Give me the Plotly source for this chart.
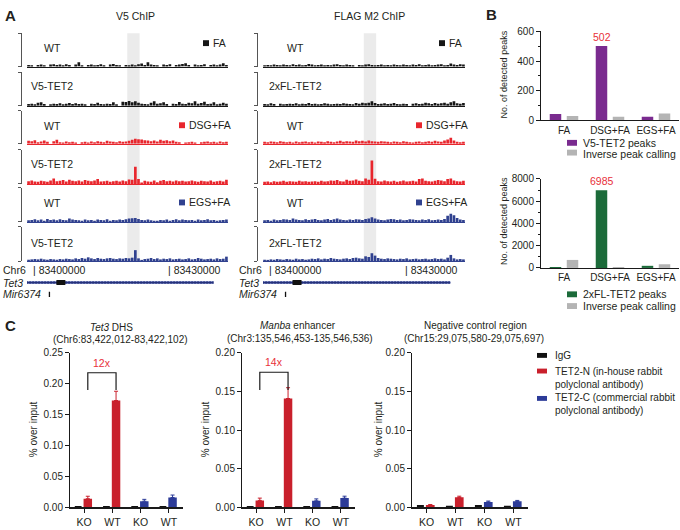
import plotly.graph_objects as go

W, H = 680, 530
FONT = "Liberation Sans, Arial, Helvetica, sans-serif"
TXT = "#231f20"

# ---------------- data ----------------
region_start = 83398800
region_end = 83443600
highlight_region = [83421150, 83423900]
coord_ticks = [83400000, 83430000]
coord_tick_labels = ["| 83400000", "| 83430000"]
tet3_gene = [83398700, 83440350]
tet3_exon = [83405350, 83407350]
mir6374_pos = 83403800

v5_fa_wt = [0.5,0.4,0,0.5,0.6,0.3,0,0.6,0.7,0.5,0.6,0.4,0.7,0.5,0,0.6,
            1.3,0.4,0,0.5,0.6,0.4,0.5,0.7,0.3,0,0.6,0.8,0.5,0.4,0,0.5,
            0.3,0.6,0.4,0.7,0.9,0.5,1.3,0.6,0.5,0.4,0,0.6,0.5,0.7,0,0.5,
            0.6,0.8,1.0,0.5,0,0.6,0.4,0.5,0.7,0,0.5,0.6,0.4,0.6,1.0,0.5]
v5_fa_tet2 = [0.5,0.6,0.4,0.9,1.0,0.5,0,0.4,0.6,0.5,0.7,0.4,0.6,0.8,0.5,0.7,
              0.5,0.6,0.4,0,0.6,0.5,0.9,0.5,0.4,0.6,0.5,1.0,0.4,0,1.2,1.1,
              1.4,1.0,1.3,0.9,0.6,0.5,0.4,0.9,1.3,0.6,0.7,1.0,0.5,0,0.6,0.5,
              1.1,0.6,0.5,0.9,0.7,1.3,0.6,0.8,1.2,0.5,0.6,1.0,0.4,0.6,0.9,0.6]
v5_dsg_wt = [0.9,0.8,1.1,0.5,0.7,1.0,0.6,0,0.8,1.2,0.5,0.4,0.7,0.5,0.6,0.4,
             0,0.5,0.6,0.4,0.7,0.5,0.8,0.6,0.5,0.9,0.7,0.6,0.5,0.8,0.6,0.7,
             0.9,1.2,1.5,1.4,1.3,1.1,1.0,0.8,1.0,0.7,1.2,0.9,1.1,0.8,1.0,0.6,
             0.5,0,0.4,0.5,0.6,0.4,0,0.5,0.6,0.7,0.5,0.6,0.4,0.7,0.5,0.6]
v5_dsg_tet2 = [0.8,1.0,0.7,0.6,0.9,0.8,0.6,1.0,1.6,0.8,0.9,1.1,0.7,1.2,0.9,0.8,
               1.0,0.7,1.1,0.9,0.8,1.0,1.4,0.7,0.8,0.9,0.6,0.8,0.9,0.7,1.0,0.8,
               1.3,1.2,5.0,1.4,0.4,0.9,0.7,0.6,1.0,0.5,0.9,1.1,0.8,0.9,0.7,1.0,
               0.8,0.9,0.7,0.8,1.0,0.8,0.6,0.9,0.8,0.7,1.0,0.6,0.8,0.9,0.7,1.2]
v5_egs_wt = [0.5,0.6,0.8,0.5,0.7,0.4,0.9,0.6,0.7,0.5,0.8,0.6,0.5,1.0,0.7,0.6,
             0.5,0.4,0.7,0.5,0.6,0.4,0.7,0.6,0.5,0.8,0.4,0.6,0.5,0.7,0.6,0.8,
             1.0,1.1,1.2,0.9,0.6,0.5,0.7,0.5,0.4,0.3,0.6,0.5,0.7,0.4,0.6,0.8,
             0.5,0.7,0.6,0.5,0.6,0.4,0.7,0.5,0.6,0.8,0.5,0.6,0.4,0.5,0.6,0.7]
v5_egs_tet2 = [0.4,0.5,0.6,0.5,0.7,0.5,0.4,0.6,0.5,0.4,0.6,0.5,0.7,0.6,0.5,0.8,
               0.6,0.9,0.7,1.1,0.8,0.6,0.9,0.7,0.6,0.8,0.9,0.7,0.6,0.8,0.7,0.9,
               0.8,1.0,3.2,0.8,0.2,0.6,0.7,0.9,0.6,0.8,0.5,0.7,0.6,0.8,0.5,0.6,
               0.7,0.5,0.6,0.8,0.5,0.6,0.9,0.7,0.5,0.6,0.7,0.5,0.8,0.6,0.7,1.3]
flag_fa_wt = [0.4,0.5,0.3,0.6,0.5,0.4,0.6,0.5,0.4,0.7,0.5,0.6,0.4,0.5,0.8,0.6,
              0.4,0.5,0.6,0.3,0.5,0.4,0.6,0.7,0.5,0.4,0.6,0.5,0.3,0,0.5,0.4,
              0.6,0.7,0.5,0.4,0.5,0.6,0.4,0.5,0.3,0.6,0.5,0.4,0.6,0.5,0.4,0.6,
              0.5,0.7,0.4,0.5,0.6,0.4,0.5,0.6,0.7,0.4,0.5,0.9,0.6,0.5,0.7,0.6]
flag_fa_tet2 = [0.5,0.4,0.7,0.5,0,0.6,0.4,0.5,0.6,0.5,0.7,0.4,0.6,0.5,0.8,0.5,
                0.6,0.4,0.5,0.7,0.6,0.4,0.5,0.6,0.5,0.7,0.6,0.5,0.4,0.8,0.6,0.9,
                0.7,0.9,1.3,0.8,0.5,0.6,0.7,0.5,0.6,0.8,0.5,0.4,0.6,0.5,0,0.6,
                0.7,0.5,0.6,0.9,0.7,0.5,0.8,0.6,0.7,0.9,0.6,1.0,1.3,0.7,0.6,0.8]
flag_dsg_wt = [0.6,0.5,0.7,0.6,0.5,0.8,0.6,0.5,0.6,0.4,0.7,0.5,0.6,0.7,0.5,0.6,
               0.4,0.7,0.6,0.5,0.8,0.6,0.5,0.7,0.9,0.6,0.8,0.7,0.6,1.0,0.8,0.9,
               0.7,1.0,0.8,0.7,0.6,0.8,0.7,0.6,0.5,0.7,0.6,0.5,0.8,0.6,0.5,0.4,
               0.6,0.7,0.5,0.6,0.8,0.6,0.9,0.7,0.6,1.0,1.3,1.8,1.0,0.6,0.5,0.6]
flag_dsg_tet2 = [0.6,0.7,0.5,0.8,0.6,0.7,0.9,0.6,0.8,0.7,0.6,0.9,0.7,0.8,0.6,0.7,
                 0.8,0.6,0.9,0.7,0.8,1.0,0.9,1.1,0.8,0.7,1.2,0.9,1.0,1.3,0.9,0.8,
                 1.6,1.2,6.8,1.5,0.8,0.7,1.0,0.8,0.7,0.9,0.6,0.8,1.0,0.7,0.8,0.9,
                 0.7,1.4,1.6,0.9,0.8,0.7,0.9,1.1,1.0,0.8,1.4,1.6,1.0,0.8,0.7,0.9]
flag_egs_wt = [0.5,0.6,0.4,0.7,0.5,0.6,0.8,0.7,0.6,1.0,0.7,0.6,0.5,0.8,0.6,0.7,
               0.9,0.6,0.5,0.7,0.9,0.6,0.8,1.0,0.7,0.6,0.5,0.7,0.6,0.8,0.7,0.6,
               0.9,1.0,1.4,1.0,0.7,0.6,0.5,0.7,0.9,0.8,0.6,0.7,0.5,0.6,0.8,0.7,
               0.6,0.5,0.7,0.6,0.8,0.5,0.6,0.7,0.6,0.9,1.8,2.4,2.0,1.2,0.7,0.6]
flag_egs_tet2 = [0.4,0.3,0.5,0.4,0.6,0.5,0.4,0.6,0.5,0.4,0.7,0.5,0.6,0.4,0.5,0.7,
                 0.6,0.8,0.5,0.7,0.6,0.9,0.7,0.6,0.5,0.7,0.8,0.6,0.9,1.0,0.8,0.7,
                 1.4,1.2,2.3,1.6,0.9,0.7,0.6,0.8,0.7,0.6,0.5,0.7,0.6,0.8,0.5,0.6,
                 0.7,0.5,0.6,0.7,0.5,0.6,0.8,0.6,0.7,0.5,1.0,1.8,0.8,0.5,0.6,0.5]
track_max = 10

b_categories = ["FA", "DSG+FA", "EGS+FA"]
v5_peaks = [42, 502, 25]
v5_inverse = [30, 24, 46]
fl_peaks = [80, 6985, 190]
fl_inverse = [720, 12, 330]

c_positions = [0, 1, 2, 3]
c_ticklabels = ["KO", "WT", "KO", "WT"]
tet3_igg = [0.001, 0.002, 0.001, 0.002]
tet3_n = [0.014, 0.173]
tet3_n_err = [0.004, 0.015]
tet3_c = [0.010, 0.016]
tet3_c_err = [0.003, 0.004]
manba_igg = [0.001, 0.0015, 0.001, 0.0015]
manba_n = [0.009, 0.141]
manba_n_err = [0.003, 0.014]
manba_c = [0.0085, 0.012]
manba_c_err = [0.0025, 0.0025]
neg_igg = [0.003, 0.002, 0.003, 0.002]
neg_n = [0.003, 0.013]
neg_n_err = [0.0007, 0.0015]
neg_c = [0.007, 0.0078]
neg_c_err = [0.0012, 0.0012]

# ---------------- styles ----------------
C_FA, C_DSG, C_EGS = "#161616", "#e8262d", "#30418f"
PURPLE, GRAY, GREEN = "#7a2b8f", "#b4b4b4", "#1c6b3a"
RED_C, BLUE_C, IGG_C = "#c9202c", "#2c3b98", "#111111"
AXC = "#1a1a1a"

layout = dict(width=W, height=H, autosize=False, margin=dict(l=0, r=0, t=0, b=0),
              paper_bgcolor="white", plot_bgcolor="rgba(0,0,0,0)", showlegend=False,
              barmode="overlay", font=dict(family=FONT, size=10, color=TXT))
shapes, annotations, traces = [], [], []
n_axes = [0]


def fx(px):
    return px / W


def fy(py):
    return 1 - py / H


def add_axes(xpx, ypx, xkw, ykw):
    n_axes[0] += 1
    k = n_axes[0]
    s = "" if k == 1 else str(k)
    xa = dict(domain=[fx(xpx[0]), fx(xpx[1])], anchor="y" + s, showgrid=False, zeroline=False)
    ya = dict(domain=[fy(ypx[1]), fy(ypx[0])], anchor="x" + s, showgrid=False, zeroline=False)
    xa.update(xkw)
    ya.update(ykw)
    layout["xaxis" + s] = xa
    layout["yaxis" + s] = ya
    return "x" + s, "y" + s


def text(x, y, t, size=10, anchor="left", color=TXT, **kw):
    d = dict(x=x, y=y, xref="paper", yref="paper", text=t, showarrow=False,
             xanchor=anchor, yanchor="middle", font=dict(size=size, color=color, family=FONT))
    d.update(kw)
    annotations.append(d)


def swatch(x0, x1, y0, y1, color):
    shapes.append(dict(type="rect", xref="paper", yref="paper", x0=fx(x0), x1=fx(x1),
                       y0=fy(y1), y1=fy(y0), fillcolor=color, line=dict(width=0)))


# ---------------- panel A ----------------
track_px = [(28, 62), (68, 102), (107, 141), (147, 182), (186, 221), (226, 261)]
label_y = [43, 82, 123, 162, 202, 242]
conds = ["FA", "FA", "DSG+FA", "DSG+FA", "EGS+FA", "EGS+FA"]
cond_color = {"FA": C_FA, "DSG+FA": C_DSG, "EGS+FA": C_EGS}
cond_y = {"FA": 38, "DSG+FA": 122, "EGS+FA": 201}

columns = [
    dict(title="V5 ChIP", title_x=135, data_px=(27, 228), bracket=21, wt_x=42, tg_x=29,
         tg_name="V5-TET2", chr_x=1,
         sw={"FA": 203, "DSG+FA": 179, "EGS+FA": 179},
         tracks=[v5_fa_wt, v5_fa_tet2, v5_dsg_wt, v5_dsg_tet2, v5_egs_wt, v5_egs_tet2]),
    dict(title="FLAG M2 ChIP", title_x=370, data_px=(263, 465), bracket=257, wt_x=285, tg_x=267,
         tg_name="2xFL-TET2", chr_x=237,
         sw={"FA": 439, "DSG+FA": 416, "EGS+FA": 416},
         tracks=[flag_fa_wt, flag_fa_tet2, flag_dsg_wt, flag_dsg_tet2, flag_egs_wt, flag_egs_tet2]),
]

for col in columns:
    text(fx(col["title_x"]), fy(10), col["title"], size=10.5, anchor="center")
    first_x = None
    for i, vals in enumerate(col["tracks"]):
        color = cond_color[conds[i]]
        xa, ya = add_axes(col["data_px"], track_px[i],
                          dict(range=[region_start, region_end], showline=True, linecolor=color,
                               linewidth=1.3, ticks="", showticklabels=False),
                          dict(range=[0, track_max], anchor="free", position=fx(col["bracket"]),
                               showline=True, linecolor="#555", linewidth=1, ticks="outside",
                               tickvals=[0, track_max], ticklen=3, tickcolor="#555",
                               showticklabels=False))
        if first_x is None:
            first_x = xa
        n = len(vals)
        bw = (region_end - region_start) / n
        centers = [region_start + (j + 0.5) * bw for j in range(n)]
        traces.append(go.Bar(x=centers, y=vals, width=bw * 0.85, marker=dict(color=color, line=dict(width=0)),
                             xaxis=xa, yaxis=ya, hoverinfo="skip"))
        if i % 2 == 0:
            text(fx(col["wt_x"]), fy(label_y[i]), "WT", size=10.5)
            c = conds[i]
            sx = col["sw"][c]
            swatch(sx, sx + 6, cond_y[c] - 3, cond_y[c] + 3, color)
            text(fx(sx + 8), fy(cond_y[c]), c, size=10.5)
        else:
            text(fx(col["tg_x"]), fy(label_y[i]), col["tg_name"], size=10.5)
    shapes.append(dict(type="rect", xref=first_x, yref="paper", x0=highlight_region[0],
                       x1=highlight_region[1], y0=fy(261), y1=fy(28), fillcolor="#ebebeb",
                       line=dict(width=0), layer="below"))
    # gene annotation
    gx, gy = add_axes(col["data_px"], (277, 301),
                      dict(range=[region_start, region_end], showline=False, ticks="",
                           showticklabels=False),
                      dict(range=[-0.5, 1.5], showline=False, ticks="", showticklabels=False))
    traces.append(go.Scatter(x=tet3_gene, y=[1, 1], mode="lines", line=dict(color="#8a95c8", width=3),
                             xaxis=gx, yaxis=gy, hoverinfo="skip"))
    traces.append(go.Scatter(x=tet3_gene, y=[1, 1], mode="lines",
                             line=dict(color="#27337d", width=1.2),
                             xaxis=gx, yaxis=gy, hoverinfo="skip"))
    traces.append(go.Scatter(x=tet3_gene, y=[1, 1], mode="lines",
                             line=dict(color="#27337d", width=3, dash="1px,2px"),
                             xaxis=gx, yaxis=gy, hoverinfo="skip"))
    traces.append(go.Scatter(x=tet3_exon, y=[1, 1], mode="lines", line=dict(color="#111", width=5),
                             xaxis=gx, yaxis=gy, hoverinfo="skip"))
    traces.append(go.Scatter(x=[mir6374_pos, mir6374_pos], y=[-0.22, 0.22], mode="lines",
                             line=dict(color="#111", width=1.3), xaxis=gx, yaxis=gy, hoverinfo="skip"))
    text(fx(col["chr_x"]), fy(270), "Chr6", size=10.5)
    text(fx(col["chr_x"]), fy(283), "<i>Tet3</i>", size=10.5)
    text(fx(col["chr_x"]), fy(295), "<i>Mir6374</i>", size=10.5)
    for tv, tl in zip(coord_ticks, coord_tick_labels):
        annotations.append(dict(x=tv, y=fy(270), xref=gx, yref="paper", text=tl, showarrow=False,
                                xanchor="left", yanchor="middle", xshift=-1,
                                font=dict(size=10.5, color=TXT, family=FONT)))

# ---------------- panel B ----------------
def b_chart(ypx, peaks, inverse, pcolor, yrange, tickvals, minor_dtick):
    xa, ya = add_axes((541, 679), ypx,
                      dict(type="category", categoryorder="array", categoryarray=b_categories,
                           range=[-0.5, 2.5], showline=True, linecolor=AXC, linewidth=1.3, ticks="",
                           tickfont=dict(size=10)),
                      dict(range=yrange, tickvals=tickvals, showline=True, linecolor=AXC, linewidth=1,
                           ticks="outside", ticklen=4, tickcolor=AXC, tickfont=dict(size=10),
                           minor=dict(ticks="outside", ticklen=2, dtick=minor_dtick, tick0=0,
                                      tickcolor=AXC)))
    traces.append(go.Bar(x=b_categories, y=peaks, offset=-0.31, width=0.25,
                         marker=dict(color=pcolor, line=dict(width=0)), xaxis=xa, yaxis=ya))
    traces.append(go.Bar(x=b_categories, y=inverse, offset=0.06, width=0.25,
                         marker=dict(color=GRAY, line=dict(width=0)), xaxis=xa, yaxis=ya))
    top = max(range(len(peaks)), key=lambda j: peaks[j])
    annotations.append(dict(x=b_categories[top], y=peaks[top], xref=xa, yref=ya, text=str(peaks[top]),
                            showarrow=False, xanchor="center", yanchor="bottom", xshift=-8.5, yshift=1,
                            font=dict(size=10.5, color="#e8303a", family=FONT)))


b_chart((26, 117), v5_peaks, v5_inverse, PURPLE, [0, 600], [0, 200, 400, 600], 100)
b_chart((177, 268), fl_peaks, fl_inverse, GREEN, [0, 8000], [0, 2000, 4000, 6000, 8000], 1000)
text(fx(504), fy(70), "No. of detected peaks", size=9, anchor="center", textangle=-90)
text(fx(504), fy(220), "No. of detected peaks", size=9, anchor="center", textangle=-90)
swatch(567, 577, 137, 143, PURPLE)
text(fx(581), fy(140), "V5-TET2 peaks", size=10.5)
swatch(567, 577, 147, 153, GRAY)
text(fx(581), fy(151), "Inverse peak calling", size=10.5)
swatch(567, 577, 292, 298, GREEN)
text(fx(581), fy(295), "2xFL-TET2 peaks", size=10.5)
swatch(567, 577, 304, 310, GRAY)
text(fx(581), fy(307), "Inverse peak calling", size=10.5)


# ---------------- panel C ----------------
def c_chart(xpx, igg, nv, ne, cv, ce, ymax, tickvals):
    xa, ya = add_axes(xpx, (355, 513),
                      dict(range=[-0.5, 3.5], tickvals=c_positions, ticktext=c_ticklabels, showline=True,
                           linecolor=AXC, linewidth=1.5, ticks="outside", ticklen=4, tickcolor=AXC,
                           tickfont=dict(size=10.5)),
                      dict(range=[0, ymax], tickvals=tickvals, tickformat=".2f", showline=True,
                           linecolor=AXC, linewidth=1, ticks="outside", ticklen=4, tickcolor=AXC,
                           tickfont=dict(size=10)))
    traces.append(go.Bar(x=c_positions, y=igg, offset=-0.33, width=0.24,
                         marker=dict(color=IGG_C, line=dict(width=0)), xaxis=xa, yaxis=ya))
    traces.append(go.Bar(x=c_positions[:2], y=nv, offset=-0.02, width=0.3,
                         marker=dict(color=RED_C, line=dict(width=0)), xaxis=xa, yaxis=ya,
                         error_y=dict(type="data", array=ne, arrayminus=[0] * len(ne), symmetric=False,
                                      color=RED_C, thickness=1, width=2)))
    traces.append(go.Bar(x=c_positions[2:], y=cv, offset=-0.02, width=0.3,
                         marker=dict(color=BLUE_C, line=dict(width=0)), xaxis=xa, yaxis=ya,
                         error_y=dict(type="data", array=ce, arrayminus=[0] * len(ce), symmetric=False,
                                      color=BLUE_C, thickness=1, width=2)))
    return xa, ya


fold_labels = ["12x", "14x"]
xa1, ya1 = c_chart((70, 183), tet3_igg, tet3_n, tet3_n_err, tet3_c, tet3_c_err, 0.25,
                   [0, 0.05, 0.10, 0.15, 0.20, 0.25])
xa2, ya2 = c_chart((242, 355), manba_igg, manba_n, manba_n_err, manba_c, manba_c_err, 0.20,
                   [0, 0.05, 0.10, 0.15, 0.20])
xa3, ya3 = c_chart((412, 528), neg_igg, neg_n, neg_n_err, neg_c, neg_c_err, 0.20,
                   [0, 0.05, 0.10, 0.15, 0.20])

for (xa, ya, lo, hi, lab) in [(xa1, ya1, 0.19, 0.218, fold_labels[0]),
                              (xa2, ya2, 0.152, 0.175, fold_labels[1])]:
    shapes.append(dict(type="path", xref=xa, yref=ya,
                       path=f"M 0.13,{lo} L 0.13,{hi} L 1.13,{hi} L 1.13,{lo}",
                       line=dict(color=AXC, width=1.2)))
    annotations.append(dict(x=0.63, y=hi, xref=xa, yref=ya, text=lab, showarrow=False,
                            xanchor="center", yanchor="bottom", yshift=2,
                            font=dict(size=10.5, color="#e8303a", family=FONT)))

for xc in [33, 205, 378]:
    text(fx(xc), fy(433), "% over input", size=10, anchor="center", textangle=-90)

text(fx(111), fy(329), "<i>Tet3</i> DHS", size=10, anchor="center")
text(fx(120), fy(341), "(Chr6:83,422,012-83,422,102)", size=10, anchor="center")
text(fx(298), fy(327), "<i>Manba</i> enhancer", size=10, anchor="center")
text(fx(300), fy(340), "(Chr3:135,546,453-135,546,536)", size=10, anchor="center")
text(fx(475), fy(327), "Negative control region", size=10, anchor="center")
text(fx(474), fy(340), "(Chr15:29,075,580-29,075,697)", size=10, anchor="center")

swatch(537, 547, 355, 360, IGG_C)
text(fx(553), fy(358), "IgG", size=10)
swatch(537, 547, 371, 376, RED_C)
text(fx(553), fy(374), "TET2-N (in-house rabbit", size=10)
text(fx(553), fy(387), "polyclonal antibody)", size=10)
swatch(537, 547, 399, 404, BLUE_C)
text(fx(553), fy(401), "TET2-C (commercial rabbit", size=10)
text(fx(553), fy(414), "polyclonal antibody)", size=10)

# panel letters
text(fx(3), fy(10), "<b>A</b>", size=15)
text(fx(484), fy(9), "<b>B</b>", size=15)
text(fx(3), fy(327), "<b>C</b>", size=15)

layout["shapes"] = shapes
layout["annotations"] = annotations
fig = go.Figure(data=traces, layout=layout)
fig.write_html("out.html", config={"displayModeBar": False},
               post_script="document.body.style.margin='0';document.body.style.padding='0';"
                           "document.body.style.overflow='hidden';")
